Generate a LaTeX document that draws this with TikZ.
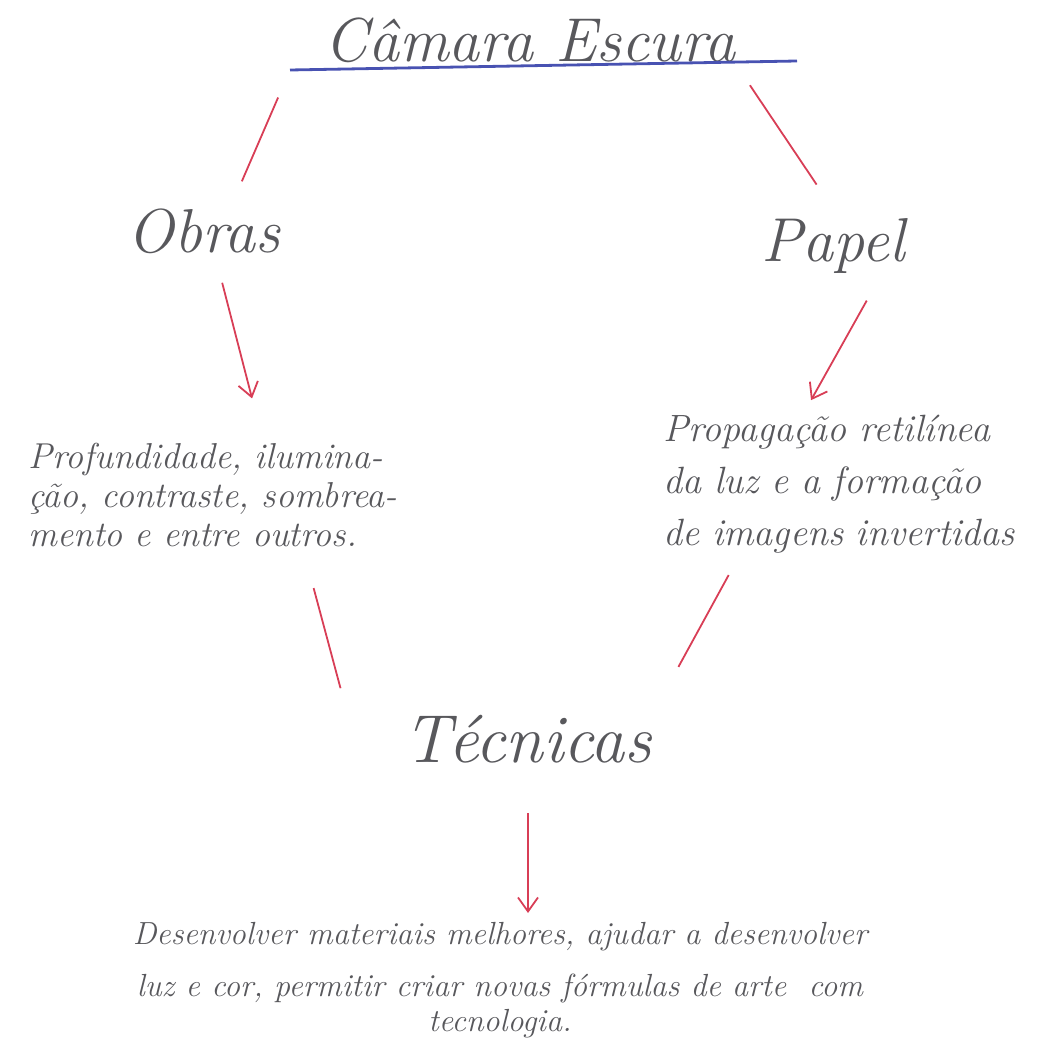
\documentclass[tikz,border=0pt]{standalone}
\usepackage{fontspec}
\usetikzlibrary{arrows.meta}
\definecolor{pencil}{RGB}{88,88,92}
\definecolor{redpen}{RGB}{216,62,86}
\definecolor{bluepen}{RGB}{72,82,178}
\begin{document}
\begin{tikzpicture}[x=0.5pt,y=-0.5pt,>={Straight Barb[length=7pt,width=10pt]},
 word/.style={text=pencil,inner sep=0pt,font=\fontsize{31}{36}\selectfont\itshape},
 note/.style={text=pencil,inner sep=0pt,align=left},
 link/.style={redpen,line width=0.9pt}]
 \useasboundingbox (0,0) rectangle (1043,1043);
 % titulo e ramos
 \node[word,anchor=base] (title) at (530,62) {Câmara Escura};
 \coordinate (ul-l) at (290,70); \coordinate (ul-r) at (797,61);
 \draw[bluepen,line width=1.4pt] (ul-l) -- (ul-r);
 \node[word,anchor=base] (obras) at (204,252) {Obras};
 \node[word,anchor=base] (papel) at (833,262) {Papel};
 \node[note,text width=205pt,anchor=north west,font=\fontsize{18}{19.5}\selectfont\itshape] (prof) at (28,443)
  {Profundidade, ilumina-\\ção, contraste, sombrea-\\mento e entre outros.};
 \node[note,text width=188pt,anchor=north west,font=\fontsize{19}{26}\selectfont\itshape] (prop) at (663,415)
  {Propagação retilínea\\da luz e a formação\\de imagens invertidas};
 \node[word,anchor=base,font=\fontsize{34}{40}\selectfont\itshape] (tecnicas) at (528,762) {Técnicas};
 \node[text=pencil,inner sep=0pt,align=center,anchor=north,
  font=\fontsize{16}{26}\selectfont\itshape] (desc) at (500,922)
  {Desenvolver materiais melhores, ajudar a desenvolver\\
   luz e cor, permitir criar novas fórmulas de arte\ \ com\\[-8.5pt]tecnologia.};
 % ligacoes
 \draw[link,shorten <=15pt,shorten >=14.5pt] (ul-l) -- (obras.41);
 \draw[link,shorten <=13pt,shorten >=20.5pt] (title.south east) -- (papel.77);
 \draw[link,->,shorten <=15pt,shorten >=23pt] (obras.-65) -- (prof.60);
 \draw[link,->,shorten <=15pt,shorten >=8.5pt] (papel.-30) -- (prop.125);
 \draw[link,shorten <=21pt,shorten >=13.5pt] (prof.-37) -- ([xshift=-28pt]tecnicas.north west);
 \draw[link,shorten <=12pt,shorten >=27pt] (prop.-148) -- (tecnicas.north east);
 \draw[link,->,shorten <=25pt,shorten >=4.5pt] (tecnicas.south) -- (tecnicas.south |- desc.north);
\end{tikzpicture}
\end{document}
